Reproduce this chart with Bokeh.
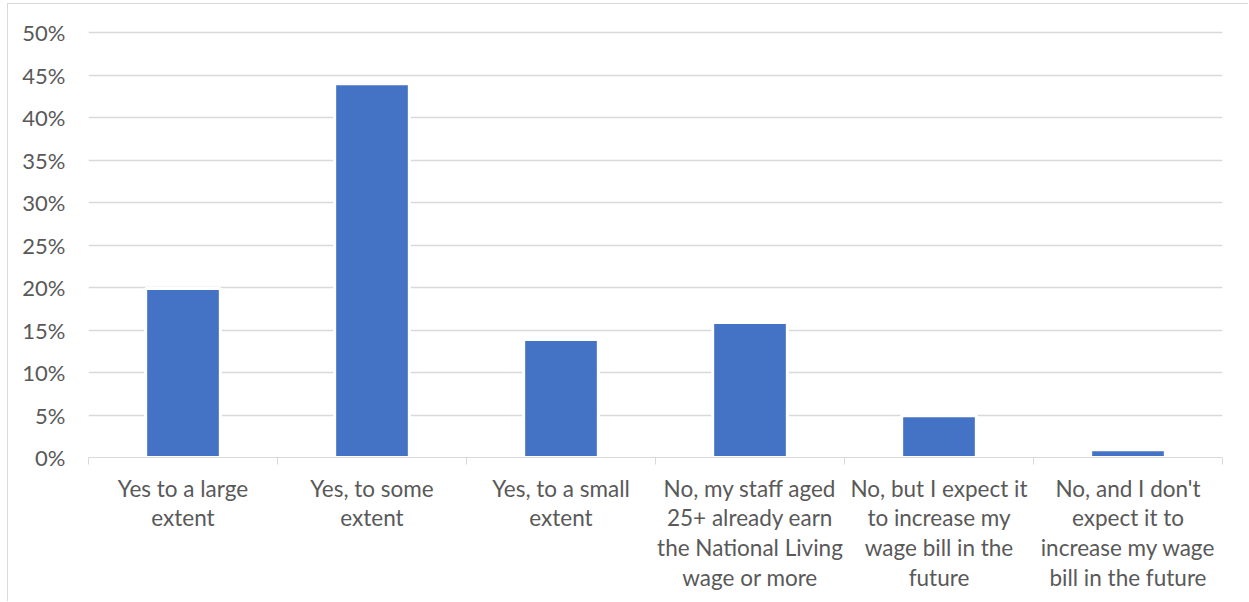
from bokeh.plotting import figure
from bokeh.models import Range1d, FixedTicker, ColumnDataSource
from bokeh.embed import file_html
from bokeh.resources import INLINE

categories = [
    "Yes to a large\nextent",
    "Yes, to some\nextent",
    "Yes, to a small\nextent",
    "No, my staff aged\n25+ already earn\nthe National Living\nwage or more",
    "No, but I expect it\nto increase my\nwage bill in the\nfuture",
    "No, and I don't\nexpect it to\nincrease my wage\nbill in the future",
]
values = [19.9, 44.0, 13.9, 15.9, 4.9, 0.9]
y_ticks = [0, 5, 10, 15, 20, 25, 30, 35, 40, 45, 50]

xpos = [i + 0.5 for i in range(len(categories))]
src = ColumnDataSource(dict(x=xpos, top=values))

FONT = "Lato"
TXT = "#595959"
GRID = "#d9d9d9"

p = figure(width=1241, height=598, output_backend="svg", toolbar_location=None,
           x_range=Range1d(0, len(categories)), y_range=Range1d(0, 50.5),
           min_border_left=80, min_border_right=27, min_border_top=24, min_border_bottom=145)
p.styles = {"margin-left": "7px", "margin-top": "3px",
            "border-left": "1px solid #d9d9d9", "border-top": "1px solid #d9d9d9"}
p.outline_line_color = None
p.background_fill_color = "white"

p.vbar(x="x", top="top", bottom=0, width=0.395, source=src,
       fill_color="#4472c4", line_color="white", line_width=3)

# x axis
xa = p.xaxis[0]
xa.ticker = FixedTicker(ticks=xpos, minor_ticks=list(range(len(categories) + 1)))
xa.major_label_overrides = {x: c for x, c in zip(xpos, categories)}
xa.major_tick_out = 0
xa.major_tick_in = 0
xa.minor_tick_out = 7
xa.minor_tick_in = 0
xa.minor_tick_line_color = GRID
xa.axis_line_color = GRID
xa.major_label_text_font = FONT
xa.major_label_text_font_size = "22.5px"
xa.major_label_text_color = TXT
xa.major_label_text_line_height = 1.1
xa.major_label_standoff = 10

# y axis
ya = p.yaxis[0]
ya.ticker = FixedTicker(ticks=y_ticks)
ya.major_label_overrides = {t: f"{t}%" for t in y_ticks}
ya.axis_line_color = None
ya.major_tick_line_color = None
ya.minor_tick_line_color = None
ya.major_tick_out = 0
ya.major_label_standoff = 23
ya.major_label_text_font = FONT
ya.major_label_text_font_size = "22px"
ya.major_label_text_color = TXT

p.xgrid.grid_line_color = None
p.ygrid.grid_line_color = GRID
p.ygrid.grid_line_width = 1.3
p.ygrid.ticker = FixedTicker(ticks=y_ticks[1:])

open("out.html", "w").write(file_html(p, INLINE))
